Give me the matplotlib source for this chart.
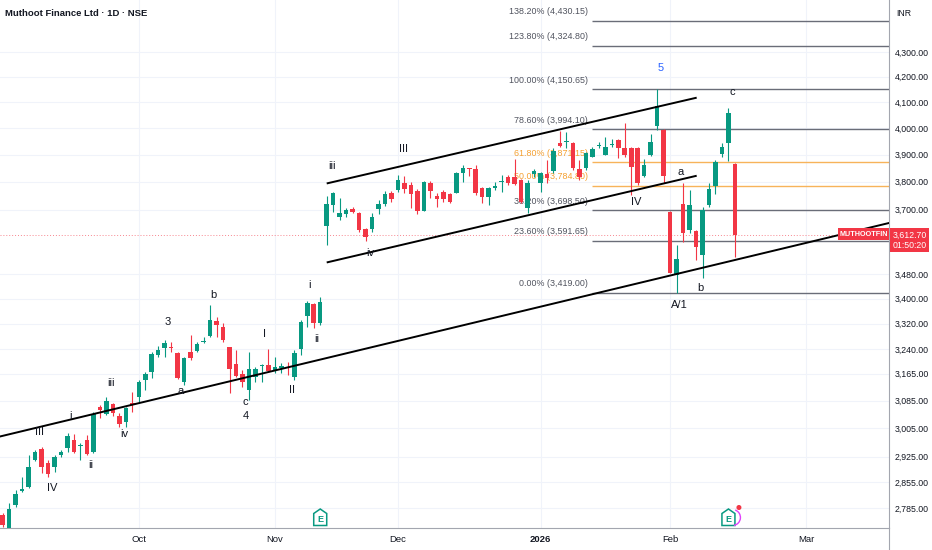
import numpy as np
import matplotlib
matplotlib.use("Agg")
import matplotlib.pyplot as plt
from matplotlib.patches import Rectangle, Polygon, Arc, Circle
import matplotlib.transforms as mtransforms
from matplotlib.ticker import FixedLocator, FixedFormatter, NullLocator

# daily candles, Muthoot Finance (NSE)
opens = [2767, 2723, 2794, 2830, 2842, 2915, 2946, 2907, 2896, 2929,
         2949, 2972, 2955, 2972, 2938, 3067, 3046, 3075, 3041, 3023,
         3078, 3096, 3146, 3170, 3222, 3244, 3248, 3229, 3141, 3232,
         3234, 3263, 3281, 3328, 3310, 3247, 3195, 3164, 3117, 3156,
         3188, 3192, 3177, 3183, 3186, 3156, 3241, 3345, 3384, 3322,
         3643, 3717, 3674, 3684, 3703, 3688, 3632, 3632, 3703, 3720,
         3761, 3771, 3794, 3788, 3767, 3697, 3796, 3749, 3763, 3756,
         3761, 3831, 3848, 3847, 3777, 3745, 3777, 3799, 3818, 3818,
         3806, 3706, 3828, 3797, 3828, 3840, 3944, 3945, 3944, 3845,
         3849, 3892, 3930, 3899, 3935, 3954, 3926, 3923, 3926, 3821,
         3899, 4007, 3992, 3694, 3477, 3721, 3629, 3627, 3544, 3717,
         3785, 3903, 3942, 3865]
highs = [2773, 2799, 2834, 2869, 2929, 2943, 2952, 2915, 2929, 2943,
         2992, 2989, 2963, 2986, 3052, 3072, 3096, 3078, 3049, 3067,
         3110, 3146, 3170, 3231, 3250, 3268, 3262, 3232, 3217, 3284,
         3263, 3279, 3379, 3342, 3322, 3248, 3237, 3177, 3232, 3186,
         3195, 3241, 3217, 3197, 3202, 3237, 3331, 3393, 3386, 3405,
         3749, 3764, 3742, 3706, 3709, 3694, 3635, 3688, 3735, 3768,
         3768, 3824, 3821, 3800, 3774, 3803, 3803, 3759, 3771, 3761,
         3836, 3862, 3852, 3862, 3783, 3783, 3800, 3824, 3824, 3884,
         3810, 3806, 3848, 3836, 3880, 3923, 3989, 3985, 3948, 3880,
         3911, 3929, 3948, 3964, 3957, 3957, 4020, 3929, 3929, 3883,
         3977, 4150.65, 3996, 3697, 3578, 3794, 3771, 3629, 3711, 3794,
         3880, 3942, 4075, 3868]
lows = [2736, 2715, 2789, 2828, 2840, 2912, 2880, 2869, 2883, 2924,
        2938, 2935, 2915, 2929, 2935, 3035, 3043, 3041, 3009, 3009,
        3052, 3081, 3117, 3152, 3216, 3216, 3231, 3148, 3131, 3207,
        3230, 3258, 3279, 3279, 3263, 3107, 3156, 3126, 3087, 3141,
        3141, 3172, 3167, 3166, 3161, 3146, 3222, 3310, 3306, 3315,
        3578, 3694, 3664, 3675, 3688, 3623, 3592, 3623, 3685, 3715,
        3729, 3765, 3761, 3706, 3684, 3696, 3741, 3710, 3729, 3723,
        3759, 3800, 3821, 3753, 3723, 3717, 3771, 3765, 3788, 3788,
        3723, 3688, 3818, 3765, 3794, 3831, 3928, 3923, 3843, 3806,
        3843, 3890, 3923, 3899, 3928, 3886, 3892, 3753, 3788, 3818,
        3895, 3992, 3797, 3483, 3419.00, 3589, 3618, 3527, 3467, 3711,
        3756, 3892, 3877, 3537]
closes = [2741, 2783, 2823, 2837, 2896, 2938, 2896, 2877, 2924, 2938,
          2983, 2938, 2958, 2932, 3046, 3058, 3084, 3049, 3018, 3064,
          3072, 3140, 3164, 3225, 3237, 3259, 3243, 3151, 3213, 3212,
          3256, 3266, 3331, 3317, 3268, 3180, 3158, 3141, 3180, 3180,
          3191, 3174, 3187, 3188, 3182, 3228, 3326, 3386, 3321, 3389,
          3721, 3759, 3690, 3699, 3691, 3629, 3606, 3676, 3720, 3756,
          3739, 3806, 3773, 3756, 3697, 3798, 3768, 3737, 3737, 3728,
          3833, 3852, 3845, 3759, 3745, 3777, 3786, 3803, 3797, 3792,
          3729, 3797, 3840, 3833, 3812, 3914, 3932, 3949, 3849, 3816,
          3905, 3921, 3934, 3929, 3941, 3923, 3899, 3855, 3794, 3862,
          3948, 4085, 3821, 3485, 3530, 3618, 3717, 3572, 3699, 3773,
          3874, 3929, 4058, 3612.70]

month_pos = [21, 42, 61, 83, 103, 124]
month_labels = ["Oct", "Nov", "Dec", "2026", "Feb", "Mar"]
price_ticks = [4300, 4200, 4100, 4000, 3900, 3800, 3700, 3480, 3400,
               3320, 3240, 3165, 3085, 3005, 2925, 2855, 2785]

# fibonacci retracement drawn from the 3,419 low to the 4,150.65 high
fib_low, fib_high = 3419.00, 4150.65
fib_ratios = [0.0, 0.236, 0.382, 0.5, 0.618, 0.786, 1.0, 1.238, 1.382]
fib_start = 91

# trend lines: (bar, price) end points
long_line = ([-1, 137], [2979, 3655])
chan_upper = ([50, 107.1], [3794, 4117])
chan_lower = ([50, 107.1], [3519, 3822])

# elliott wave labels: text, bar, price
waves = [("III", 5.6, 2993), ("IV", 7.7, 2839), ("i", 10.4, 3041),
         ("ii", 13.6, 2901), ("iii", 16.7, 3136), ("iv", 18.7, 2988),
         ("3", 25.5, 3326), ("a", 27.5, 3114), ("b", 32.5, 3412),
         ("c", 37.5, 3080), ("4", 37.5, 3041), ("I", 40.4, 3287),
         ("II", 44.6, 3117), ("i", 47.4, 3445), ("ii", 48.5, 3273),
         ("iii", 50.8, 3859), ("III", 61.8, 3921), ("iv", 56.7, 3550),
         ("IV", 97.8, 3727), ("5", 101.6, 4234), ("a", 104.6, 3837),
         ("c", 112.6, 4141), ("b", 107.6, 3434), ("A/1", 104.4, 3379)]
earnings_bars = [49, 112]

GREEN = "#089981"
RED = "#f23645"
TXT = "#131722"

plt.rcParams["font.family"] = ["Liberation Sans", "DejaVu Sans"]

W, H = 932, 550
fig = plt.figure(figsize=(W / 100, H / 100), dpi=100)
fig.patch.set_facecolor("white")
ax = fig.add_axes([0, 22.3 / H, 889 / W, 527.7 / H])
ax.set_yscale("log")
ax.set_ylim(2733.5, 4518.3)
ax.set_xlim(-0.42, 136.78)

# grid
for p in price_ticks:
    ax.axhline(p, color="#f0f3fa", lw=0.8, zorder=0)
for m in month_pos:
    ax.axvline(m, color="#f0f3fa", lw=0.8, zorder=0)

# candles
o = np.array(opens, float)
h = np.array(highs, float)
l = np.array(lows, float)
c = np.array(closes, float)
x = np.arange(len(o))
cols = np.where(c >= o, GREEN, RED)
ax.vlines(x, l, h, colors=cols, lw=0.8, zorder=3)
bot = np.minimum(o, c)
top = np.maximum(np.maximum(o, c), bot * 1.0012)
ax.bar(x, top - bot, bottom=bot, width=0.7, color=cols, lw=0, zorder=3)

# current price line
last = c[-1]
ax.axhline(last, color=RED, lw=0.7, ls=(0, (1, 2)), alpha=0.6, zorder=2)

# fib levels
for r in fib_ratios:
    p = round((fib_low + r * (fib_high - fib_low)) * 20) / 20
    orange = r in (0.5, 0.618)
    lc = "#f7b35a" if orange else "#6a6d78"
    tc = "#f5a030" if orange else "#50535e"
    ax.hlines(p, fib_start, 136.78, color=lc, lw=1.0, zorder=1)
    ax.annotate(f"{r * 100:.2f}% ({p:,.2f})", (fib_start, p),
                xytext=(-3, 6.5), textcoords="offset points",
                ha="right", va="center", fontsize=6.4, color=tc, zorder=1)

# trend lines
for xs, ys in (long_line, chan_upper, chan_lower):
    ax.plot(xs, ys, color="black", lw=1.4, zorder=4, solid_capstyle="butt")

# wave labels
for t, bx, py in waves:
    ax.text(bx, py, t, ha="center", va="center", fontsize=8,
            color="#2962ff" if t == "5" else TXT, zorder=5)

# axes styling
for s in ("top", "left"):
    ax.spines[s].set_visible(False)
ax.spines["bottom"].set_color("#a3a6af")
ax.spines["right"].set_color("#a3a6af")
ax.yaxis.tick_right()
ax.yaxis.set_major_locator(FixedLocator(price_ticks))
ax.yaxis.set_major_formatter(FixedFormatter([f"{v:,.2f}" for v in price_ticks]))
ax.yaxis.set_minor_locator(NullLocator())
ax.tick_params(axis="y", length=0, pad=4.3, labelsize=6.3, labelcolor=TXT)
ax.set_xticks(month_pos, month_labels)
ax.tick_params(axis="x", length=0, pad=5, labelsize=6.8, labelcolor=TXT)
ax.get_xticklabels()[3].set_fontweight("bold")

fig.add_artist(plt.Line2D([889 / W, 889 / W], [0, 22.3 / H], color="#a3a6af", lw=0.8))

# title and currency
fig.text(5 / W, 1 - 13 / H, "Muthoot Finance Ltd · 1D · NSE", fontsize=6.8,
         fontweight="bold", color=TXT, va="center", ha="left")
fig.text(904 / W, 1 - 14 / H, "INR", fontsize=6.3, color=TXT, va="center", ha="center")

# price tags
yd = ax.transData.transform((0, last))[1]
fig.add_artist(Rectangle((890 / W, (yd - 16.7) / H), 39 / W, 23.7 / H,
                         transform=fig.transFigure, color=RED, lw=0))
fig.text(909.5 / W, yd / H, f"{last:,.2f}", fontsize=6.3, color="white",
         ha="center", va="center")
fig.text(909.5 / W, (yd - 11) / H, "01:50:20", fontsize=6.3, color="white",
         ha="center", va="center")
fig.add_artist(Rectangle((837.7 / W, (yd - 5.6) / H), 51.3 / W, 12.6 / H,
                         transform=fig.transFigure, color=RED, lw=0, zorder=6))
fig.text(863.3 / W, (yd + 0.6) / H, "MUTHOOTFIN", fontsize=5.2, color="white",
         fontweight="bold", ha="center", va="center", zorder=7)

# earnings badges
for i, b in enumerate(earnings_bars):
    xd = ax.transData.transform((b, last))[0]
    cy = H - 517.5
    pts = [(xd - 6.5, cy - 8), (xd + 6.5, cy - 8), (xd + 6.5, cy + 4),
           (xd, cy + 8.5), (xd - 6.5, cy + 4)]
    fig.add_artist(Polygon([(px / W, py / H) for px, py in pts], closed=True,
                           transform=fig.transFigure, fc="white", ec=GREEN, lw=1.1))
    fig.text(xd / W, (cy - 1.5) / H, "E", fontsize=6.5, color=GREEN,
             ha="center", va="center", fontweight="bold")
    if i == 1:
        fig.add_artist(Arc((xd + 4, cy), 16, 16, theta1=-80, theta2=70,
                           transform=mtransforms.IdentityTransform(),
                           color="#e040fb", lw=1))
        fig.add_artist(Circle((xd + 10.5, cy + 10), 1.8,
                              transform=mtransforms.IdentityTransform(),
                              color=RED))

fig.savefig("out.png", dpi=100)
